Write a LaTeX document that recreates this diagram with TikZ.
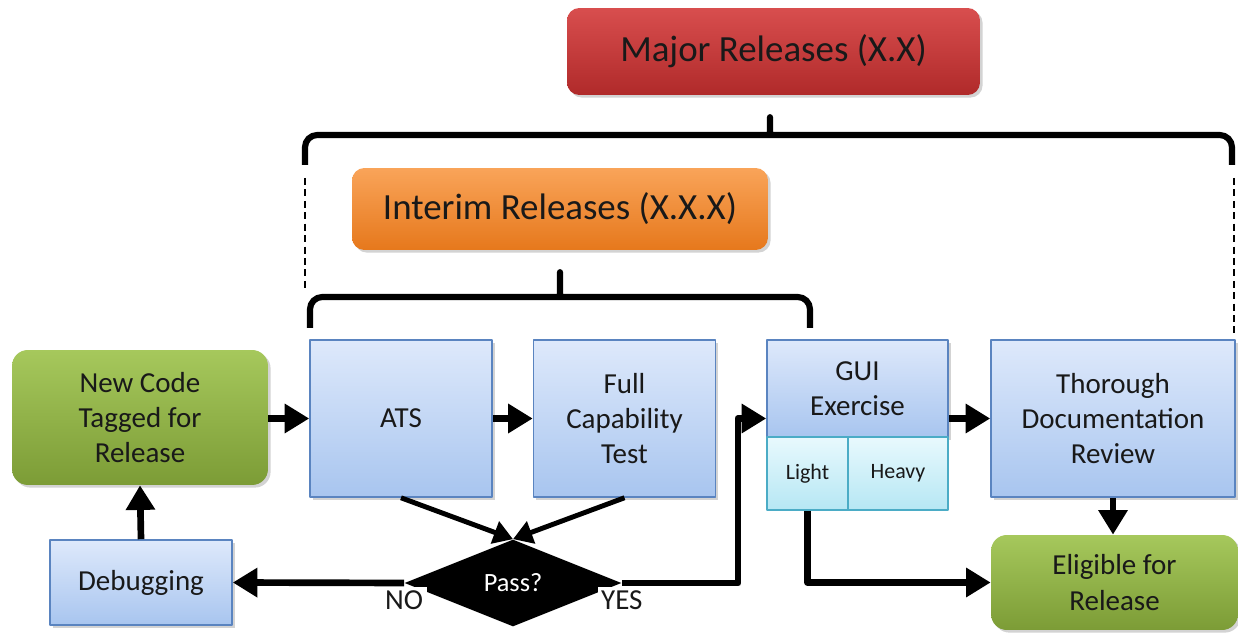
\documentclass[tikz,border=0pt]{standalone}
\usepackage{fontspec}
\setmainfont{Carlito}
\usetikzlibrary{arrows.meta,shapes.geometric,shadows}
\definecolor{blueline}{HTML}{5A84C0}
\definecolor{bluetop}{HTML}{DEE9FB}
\definecolor{bluebot}{HTML}{A8C5EF}
\definecolor{tealline}{HTML}{4BACC6}
\definecolor{tealtop}{HTML}{E8F9FD}
\definecolor{tealbot}{HTML}{B6E7F4}
\definecolor{greentop}{HTML}{A6C85C}
\definecolor{greenbot}{HTML}{7C9C36}
\definecolor{redtop}{HTML}{D84E4E}
\definecolor{redbot}{HTML}{B02A2A}
\definecolor{orangetop}{HTML}{F9A459}
\definecolor{orangebot}{HTML}{E6781C}
\begin{document}
\begin{tikzpicture}[x=0.02cm,y=-0.02cm,>={Triangle[length=14pt,width=16pt]},line join=round,
	shade/.style={drop shadow={opacity=0.35,shadow xshift=1.5pt,shadow yshift=-1.5pt}},
	boxtxt/.style={align=center,text=black!90,font=\fontsize{16.5}{20}\selectfont},
	bluebox/.style={boxtxt,shade,draw=blueline,line width=0.9pt,top color=bluetop,bottom color=bluebot,minimum width=3.64cm,minimum height=3.14cm},
	tealbox/.style={boxtxt,draw=tealline,line width=0.9pt,top color=tealtop,bottom color=tealbot,minimum height=1.46cm,font=\fontsize{12.5}{14}\selectfont},
	greenbox/.style={boxtxt,shade,rounded corners=9pt,top color=greentop,bottom color=greenbot},
	tagbox/.style={shade,rounded corners=7pt,text=black!90,font=\fontsize{21}{25}\selectfont},
	flow/.style={->,line width=3.8pt},
	thin flow/.style={-{Triangle[length=11pt,width=13pt]},line width=2.8pt},
	brace/.style={line width=3.5pt,rounded corners=7pt},
	guide/.style={line width=1.3pt,dash pattern=on 4pt off 2.5pt},
	lbl/.style={fill=white,text=black!90,font=\fontsize{16.5}{18}\selectfont,inner sep=2pt}]
	\useasboundingbox (0,0) rectangle (1238,634);
	% release tags
	\node[tagbox,top color=redtop,bottom color=redbot,minimum width=8.26cm,minimum height=1.74cm] (major) at (773.5,51.5) {Major Releases (X.X)};
	\node[tagbox,top color=orangetop,bottom color=orangebot,minimum width=8.32cm,minimum height=1.64cm] (interim) at (560,209) {Interim Releases (X.X.X)};
	\draw[brace] (305,165) -- (305,135) -- (758,135) .. controls (770,135) .. (770,110) .. controls (770,135) .. (782,135) -- (1232,135) -- (1232,165);
	\draw[brace] (310,328) -- (310,297) -- (548,297) .. controls (560,297) .. (560,265) .. controls (560,297) .. (572,297) -- (810,297) -- (810,328);
	\draw[guide] (305,178) -- (305,290);
	\draw[guide] (1234,178) -- (1234,336);
	% process boxes
	\node[greenbox,minimum width=5.12cm,minimum height=2.7cm] (newcode) at (140,417.5) {New Code\\Tagged for\\Release};
	\node[bluebox] (ats) at (401,418.5) {ATS};
	\node[bluebox] (full) at (624.5,418.5) {Full\\Capability\\Test};
	\node[bluebox,minimum width=3.62cm,minimum height=1.94cm] (gui) at (857.5,388.5) {GUI\\Exercise};
	\node[tealbox,minimum width=1.62cm] (light) at (807.5,473.5) {Light};
	\node[tealbox,minimum width=2cm] (heavy) at (898,473.5) {Heavy};
	\node[bluebox,minimum width=4.88cm] (thorough) at (1113,418.5) {Thorough\\Documentation\\Review};
	\node[greenbox,minimum width=4.94cm,minimum height=1.9cm] (eligible) at (1114.5,582.5) {Eligible for\\Release};
	\node[bluebox,minimum height=1.7cm] (debug) at (141,582.5) {Debugging};
	\node[diamond,fill=black,minimum width=4.34cm,minimum height=1.74cm,inner sep=0pt,text=white,font=\fontsize{15}{17}\selectfont] (pass) at (513,583) {\raisebox{-5pt}{Pass?}};
	\node[lbl,anchor=north] (no) at ([yshift=-2pt]pass.west) {NO};
	\node[lbl,anchor=north] (yes) at ([yshift=-2pt]pass.east) {YES};
	% connectors
	\coordinate (yesbend) at (738,583);
	\draw[flow] (newcode.east |- ats.west) -- (ats.west);
	\draw[flow] (ats.east) -- (full.west);
	\draw[thin flow] (ats.south) -- (pass.north);
	\draw[thin flow] (full.south) -- (pass.north);
	\draw[flow] (pass.west) -- (debug.east);
	\draw[flow] (debug.north) -- (newcode.south);
	\draw[flow] (pass.east) -- (yesbend) |- (gui.west |- ats.east);
	\draw[flow] (gui.east |- thorough.west) -- (thorough.west);
	\draw[flow] (thorough.south) -- (eligible.north -| thorough.south);
	\draw[flow] (light.south) |- (eligible.west);
\end{tikzpicture}
\end{document}
